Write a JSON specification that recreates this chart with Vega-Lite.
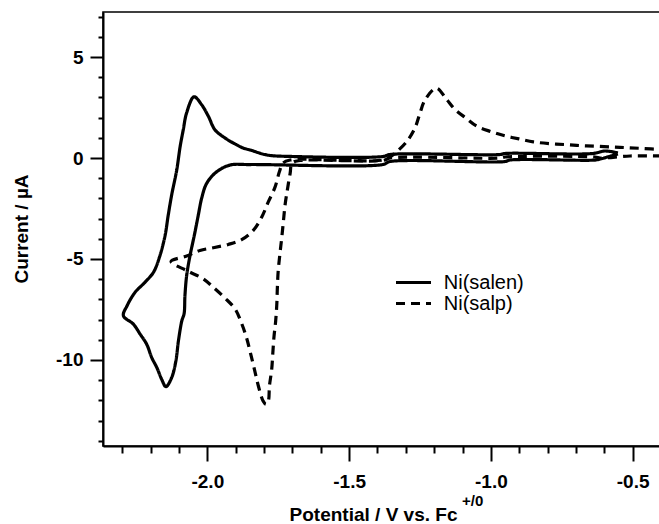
{
  "$schema": "https://vega.github.io/schema/vega-lite/v6.json",
  "width": 557,
  "height": 434,
  "autosize": {"type": "none"},
  "padding": {"left": 103, "top": 12, "right": 0, "bottom": 78},
  "background": "white",
  "config": {"view": {"stroke": "black", "strokeWidth": 1.6}, "font": "Liberation Sans"},
  "datasets": {
    "cv": [
      {"c": "Ni(salen)", "n": 1, "E": -0.552, "I": 0.2},
      {"c": "Ni(salen)", "n": 2, "E": -0.615, "I": -0.05},
      {"c": "Ni(salen)", "n": 3, "E": -0.633, "I": -0.1},
      {"c": "Ni(salen)", "n": 4, "E": -0.933, "I": -0.1},
      {"c": "Ni(salen)", "n": 5, "E": -0.95, "I": -0.174},
      {"c": "Ni(salen)", "n": 6, "E": -1.356, "I": -0.174},
      {"c": "Ni(salen)", "n": 7, "E": -1.381, "I": -0.323},
      {"c": "Ni(salen)", "n": 8, "E": -1.849, "I": -0.323},
      {"c": "Ni(salen)", "n": 9, "E": -1.92, "I": -0.348},
      {"c": "Ni(salen)", "n": 10, "E": -1.967, "I": -0.682},
      {"c": "Ni(salen)", "n": 11, "E": -2.002, "I": -1.244},
      {"c": "Ni(salen)", "n": 12, "E": -2.02, "I": -1.99},
      {"c": "Ni(salen)", "n": 13, "E": -2.032, "I": -2.836},
      {"c": "Ni(salen)", "n": 14, "E": -2.046, "I": -3.831},
      {"c": "Ni(salen)", "n": 15, "E": -2.061, "I": -4.826},
      {"c": "Ni(salen)", "n": 16, "E": -2.073, "I": -5.821},
      {"c": "Ni(salen)", "n": 17, "E": -2.079, "I": -6.816},
      {"c": "Ni(salen)", "n": 18, "E": -2.082, "I": -7.711},
      {"c": "Ni(salen)", "n": 19, "E": -2.09, "I": -8.06},
      {"c": "Ni(salen)", "n": 20, "E": -2.102, "I": -9.055},
      {"c": "Ni(salen)", "n": 21, "E": -2.111, "I": -10.05},
      {"c": "Ni(salen)", "n": 22, "E": -2.126, "I": -10.88},
      {"c": "Ni(salen)", "n": 23, "E": -2.146, "I": -11.32},
      {"c": "Ni(salen)", "n": 24, "E": -2.161, "I": -10.96},
      {"c": "Ni(salen)", "n": 25, "E": -2.178, "I": -10.38},
      {"c": "Ni(salen)", "n": 26, "E": -2.196, "I": -9.886},
      {"c": "Ni(salen)", "n": 27, "E": -2.214, "I": -9.219},
      {"c": "Ni(salen)", "n": 28, "E": -2.237, "I": -8.721},
      {"c": "Ni(salen)", "n": 29, "E": -2.261, "I": -8.224},
      {"c": "Ni(salen)", "n": 30, "E": -2.296, "I": -7.811},
      {"c": "Ni(salen)", "n": 31, "E": -2.283, "I": -7.313},
      {"c": "Ni(salen)", "n": 32, "E": -2.255, "I": -6.652},
      {"c": "Ni(salen)", "n": 33, "E": -2.22, "I": -6.154},
      {"c": "Ni(salen)", "n": 34, "E": -2.19, "I": -5.657},
      {"c": "Ni(salen)", "n": 35, "E": -2.167, "I": -4.826},
      {"c": "Ni(salen)", "n": 36, "E": -2.149, "I": -3.831},
      {"c": "Ni(salen)", "n": 37, "E": -2.138, "I": -2.836},
      {"c": "Ni(salen)", "n": 38, "E": -2.126, "I": -1.841},
      {"c": "Ni(salen)", "n": 39, "E": -2.108, "I": -0.597},
      {"c": "Ni(salen)", "n": 40, "E": -2.096, "I": 0.562},
      {"c": "Ni(salen)", "n": 41, "E": -2.085, "I": 1.393},
      {"c": "Ni(salen)", "n": 42, "E": -2.073, "I": 2.239},
      {"c": "Ni(salen)", "n": 43, "E": -2.047, "I": 3.03},
      {"c": "Ni(salen)", "n": 44, "E": -2.02, "I": 2.637},
      {"c": "Ni(salen)", "n": 45, "E": -1.996, "I": 2.055},
      {"c": "Ni(salen)", "n": 46, "E": -1.973, "I": 1.393},
      {"c": "Ni(salen)", "n": 47, "E": -1.938, "I": 0.995},
      {"c": "Ni(salen)", "n": 48, "E": -1.909, "I": 0.746},
      {"c": "Ni(salen)", "n": 49, "E": -1.874, "I": 0.498},
      {"c": "Ni(salen)", "n": 50, "E": -1.849, "I": 0.398},
      {"c": "Ni(salen)", "n": 51, "E": -1.789, "I": 0.149},
      {"c": "Ni(salen)", "n": 52, "E": -1.698, "I": 0.075},
      {"c": "Ni(salen)", "n": 53, "E": -1.381, "I": 0.075},
      {"c": "Ni(salen)", "n": 54, "E": -1.356, "I": 0.174},
      {"c": "Ni(salen)", "n": 55, "E": -0.968, "I": 0.174},
      {"c": "Ni(salen)", "n": 56, "E": -0.95, "I": 0.224},
      {"c": "Ni(salen)", "n": 57, "E": -0.64, "I": 0.224},
      {"c": "Ni(salen)", "n": 58, "E": -0.598, "I": 0.348},
      {"c": "Ni(salen)", "n": 59, "E": -0.552, "I": 0.25},
      {"c": "Ni(salp)", "n": 1, "E": -0.397, "I": 0.1},
      {"c": "Ni(salp)", "n": 2, "E": -0.509, "I": 0.1},
      {"c": "Ni(salp)", "n": 3, "E": -0.615, "I": 0.0},
      {"c": "Ni(salp)", "n": 4, "E": -0.633, "I": 0.05},
      {"c": "Ni(salp)", "n": 5, "E": -0.95, "I": 0.05},
      {"c": "Ni(salp)", "n": 6, "E": -0.968, "I": 0.0},
      {"c": "Ni(salp)", "n": 7, "E": -1.356, "I": 0.0},
      {"c": "Ni(salp)", "n": 8, "E": -1.381, "I": -0.124},
      {"c": "Ni(salp)", "n": 9, "E": -1.673, "I": -0.124},
      {"c": "Ni(salp)", "n": 10, "E": -1.701, "I": -0.249},
      {"c": "Ni(salp)", "n": 11, "E": -1.708, "I": -0.761},
      {"c": "Ni(salp)", "n": 12, "E": -1.718, "I": -1.592},
      {"c": "Ni(salp)", "n": 13, "E": -1.726, "I": -2.338},
      {"c": "Ni(salp)", "n": 14, "E": -1.732, "I": -3.169},
      {"c": "Ni(salp)", "n": 15, "E": -1.738, "I": -3.995},
      {"c": "Ni(salp)", "n": 16, "E": -1.744, "I": -4.741},
      {"c": "Ni(salp)", "n": 17, "E": -1.75, "I": -5.572},
      {"c": "Ni(salp)", "n": 18, "E": -1.753, "I": -6.403},
      {"c": "Ni(salp)", "n": 19, "E": -1.755, "I": -7.229},
      {"c": "Ni(salp)", "n": 20, "E": -1.759, "I": -8.06},
      {"c": "Ni(salp)", "n": 21, "E": -1.765, "I": -8.856},
      {"c": "Ni(salp)", "n": 22, "E": -1.769, "I": -9.637},
      {"c": "Ni(salp)", "n": 23, "E": -1.773, "I": -10.46},
      {"c": "Ni(salp)", "n": 24, "E": -1.781, "I": -11.29},
      {"c": "Ni(salp)", "n": 25, "E": -1.785, "I": -12.04},
      {"c": "Ni(salp)", "n": 26, "E": -1.793, "I": -12.19},
      {"c": "Ni(salp)", "n": 27, "E": -1.803, "I": -12.04},
      {"c": "Ni(salp)", "n": 28, "E": -1.82, "I": -11.29},
      {"c": "Ni(salp)", "n": 29, "E": -1.834, "I": -10.46},
      {"c": "Ni(salp)", "n": 30, "E": -1.847, "I": -9.716},
      {"c": "Ni(salp)", "n": 31, "E": -1.861, "I": -8.94},
      {"c": "Ni(salp)", "n": 32, "E": -1.879, "I": -8.194},
      {"c": "Ni(salp)", "n": 33, "E": -1.902, "I": -7.478},
      {"c": "Ni(salp)", "n": 34, "E": -1.938, "I": -6.93},
      {"c": "Ni(salp)", "n": 35, "E": -1.979, "I": -6.403},
      {"c": "Ni(salp)", "n": 36, "E": -2.014, "I": -5.985},
      {"c": "Ni(salp)", "n": 37, "E": -2.073, "I": -5.572},
      {"c": "Ni(salp)", "n": 38, "E": -2.128, "I": -5.124},
      {"c": "Ni(salp)", "n": 39, "E": -2.073, "I": -4.851},
      {"c": "Ni(salp)", "n": 40, "E": -2.026, "I": -4.577},
      {"c": "Ni(salp)", "n": 41, "E": -1.979, "I": -4.443},
      {"c": "Ni(salp)", "n": 42, "E": -1.926, "I": -4.279},
      {"c": "Ni(salp)", "n": 43, "E": -1.879, "I": -4.045},
      {"c": "Ni(salp)", "n": 44, "E": -1.838, "I": -3.582},
      {"c": "Ni(salp)", "n": 45, "E": -1.808, "I": -2.92},
      {"c": "Ni(salp)", "n": 46, "E": -1.785, "I": -2.174},
      {"c": "Ni(salp)", "n": 47, "E": -1.761, "I": -1.428},
      {"c": "Ni(salp)", "n": 48, "E": -1.746, "I": -0.682},
      {"c": "Ni(salp)", "n": 49, "E": -1.733, "I": -0.249},
      {"c": "Ni(salp)", "n": 50, "E": -1.708, "I": -0.1},
      {"c": "Ni(salp)", "n": 51, "E": -1.381, "I": -0.1},
      {"c": "Ni(salp)", "n": 52, "E": -1.356, "I": 0.05},
      {"c": "Ni(salp)", "n": 53, "E": -1.338, "I": 0.234},
      {"c": "Ni(salp)", "n": 54, "E": -1.297, "I": 0.811},
      {"c": "Ni(salp)", "n": 55, "E": -1.268, "I": 1.478},
      {"c": "Ni(salp)", "n": 56, "E": -1.25, "I": 2.224},
      {"c": "Ni(salp)", "n": 57, "E": -1.232, "I": 2.886},
      {"c": "Ni(salp)", "n": 58, "E": -1.192, "I": 3.458},
      {"c": "Ni(salp)", "n": 59, "E": -1.158, "I": 2.935},
      {"c": "Ni(salp)", "n": 60, "E": -1.127, "I": 2.413},
      {"c": "Ni(salp)", "n": 61, "E": -1.086, "I": 1.955},
      {"c": "Ni(salp)", "n": 62, "E": -1.05, "I": 1.577},
      {"c": "Ni(salp)", "n": 63, "E": -1.0, "I": 1.308},
      {"c": "Ni(salp)", "n": 64, "E": -0.95, "I": 1.095},
      {"c": "Ni(salp)", "n": 65, "E": -0.901, "I": 0.945},
      {"c": "Ni(salp)", "n": 66, "E": -0.85, "I": 0.796},
      {"c": "Ni(salp)", "n": 67, "E": -0.792, "I": 0.711},
      {"c": "Ni(salp)", "n": 68, "E": -0.733, "I": 0.662},
      {"c": "Ni(salp)", "n": 69, "E": -0.68, "I": 0.612},
      {"c": "Ni(salp)", "n": 70, "E": -0.627, "I": 0.582},
      {"c": "Ni(salp)", "n": 71, "E": -0.569, "I": 0.547},
      {"c": "Ni(salp)", "n": 72, "E": -0.521, "I": 0.512},
      {"c": "Ni(salp)", "n": 73, "E": -0.463, "I": 0.473},
      {"c": "Ni(salp)", "n": 74, "E": -0.397, "I": 0.423}
    ]
  },
  "layer": [
    {
      "data": {"name": "cv"},
      "mark": {"type": "line", "color": "black", "strokeWidth": 3.2, "clip": true, "strokeCap": "butt", "strokeJoin": "round", "interpolate": "catmull-rom"},
      "encoding": {
        "x": {
          "field": "E", "type": "quantitative",
          "scale": {"domain": [-2.368, -0.4036], "nice": false, "zero": false},
          "axis": {
            "values": [-2.3, -2.2, -2.1, -2.0, -1.9, -1.8, -1.7, -1.6, -1.5, -1.4, -1.3, -1.2, -1.1, -1.0, -0.9, -0.8, -0.7, -0.6, -0.5],
            "tickCount": 200,
            "labelExpr": "abs(datum.value*2 - round(datum.value*2)) < 0.01 ? ((datum.value < 0 ? '-' : '') + format(abs(datum.value), '.1f')) : ''",
            "tickSize": {"condition": {"test": "abs(datum.value*2 - round(datum.value*2)) < 0.01", "value": 15}, "value": 7},
            "tickWidth": 2, "tickColor": "black",
            "domainColor": "black", "domainWidth": 2,
            "grid": false,
            "labelFont": "Liberation Sans", "labelFontWeight": "bold", "labelFontSize": 19, "labelColor": "black",
            "labelPadding": 11, "labelFlush": false, "labelOverlap": false,
            "title": "Potential / V vs. Fc",
            "titleFont": "Liberation Sans", "titleFontWeight": "bold", "titleFontSize": 19, "titleColor": "black",
            "titleX": 270, "titleY": 74, "titleBaseline": "alphabetic", "titleAlign": "center"
          }
        },
        "y": {
          "field": "I", "type": "quantitative",
          "scale": {"domain": [-14.26, 7.23], "nice": false, "zero": false},
          "axis": {
            "values": [-14, -13, -12, -11, -10, -9, -8, -7, -6, -5, -4, -3, -2, -1, 0, 1, 2, 3, 4, 5, 6, 7],
            "tickCount": 200,
            "labelExpr": "datum.value % 5 == 0 ? ((datum.value < 0 ? '-' : '') + format(abs(datum.value), 'd')) : ''",
            "tickSize": {"condition": {"test": "datum.value % 5 == 0", "value": 13}, "value": 5},
            "tickWidth": 2, "tickColor": "black",
            "domainColor": "black", "domainWidth": 2,
            "grid": false,
            "labelFont": "Liberation Sans", "labelFontWeight": "bold", "labelFontSize": 19, "labelColor": "black",
            "labelPadding": 7, "labelFlush": false, "labelOverlap": false,
            "title": "Current / µA",
            "titleFont": "Liberation Sans", "titleFontWeight": "bold", "titleFontSize": 19, "titleColor": "black",
            "titleX": -76, "titleY": 216.5, "titleBaseline": "alphabetic", "titleAlign": "center", "titleAngle": -90
          }
        },
        "order": {"field": "n", "type": "quantitative"},
        "strokeDash": {
          "field": "c", "type": "nominal",
          "scale": {"domain": ["Ni(salen)", "Ni(salp)"], "range": [[1, 0], [9, 6]]},
          "legend": {
            "title": null, "orient": "none", "legendX": 300, "legendY": 260,
            "symbolType": "M-2,0H2", "symbolSize": 306.25, "symbolStrokeWidth": 3.2, "symbolStrokeColor": "black",
            "labelFont": "Liberation Sans", "labelFontSize": 20, "labelColor": "black", "labelOffset": 19.75,
            "rowPadding": 0
          }
        }
      }
    },
    {
      "data": {"values": [{}]},
      "mark": {"type": "text", "font": "Liberation Sans", "fontWeight": "bold", "fontSize": 15, "align": "left", "baseline": "alphabetic", "color": "black"},
      "encoding": {
        "x": {"datum": -1.102, "type": "quantitative"},
        "y": {"datum": -17.24, "type": "quantitative"},
        "text": {"value": "+/0"}
      }
    }
  ]
}
